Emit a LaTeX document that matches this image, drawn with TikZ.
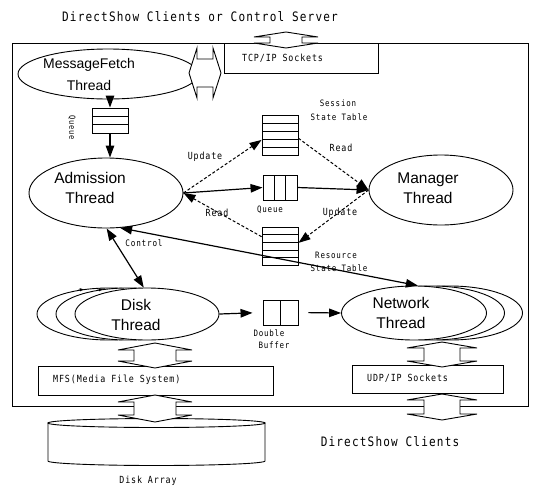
\documentclass[tikz,border=0pt]{standalone}
\usepackage{fontspec}
\setmainfont{Liberation Sans}
\newfontfamily\mono[FakeStretch=0.85,LetterSpace=9]{DejaVu Sans Mono}
\usetikzlibrary{arrows.meta,calc,shapes.geometric}

\newcommand\blkV[6]{\draw[blk] (#1,#2) -- (#1+#4,#2+#6) -- (#1+#5,#2+#6) -- (#1+#5,#3-#6) -- (#1+#4,#3-#6) -- (#1,#3) -- (#1-#4,#3-#6) -- (#1-#5,#3-#6) -- (#1-#5,#2+#6) -- (#1-#4,#2+#6) -- cycle;}
\newcommand\blkH[6]{\draw[blk] (#2,#1) -- (#2+#6,#1-#4) -- (#2+#6,#1-#5) -- (#3-#6,#1-#5) -- (#3-#6,#1-#4) -- (#3,#1) -- (#3-#6,#1+#4) -- (#3-#6,#1+#5) -- (#2+#6,#1+#5) -- (#2+#6,#1+#4) -- cycle;}

\tikzset{
 thr/.style={draw, ellipse, line width=0.9pt, fill=white, inner sep=0pt},
 big/.style={font=\fontsize{15.5}{20}\selectfont, align=center, inner sep=0pt},
 lbl/.style={font=\mono\fontsize{9.8}{12}\selectfont, inner sep=0pt},
 sm/.style={font=\mono\fontsize{8.8}{12}\selectfont, inner sep=0pt},
 ttl/.style={font=\mono\fontsize{13}{15}\selectfont, inner sep=0pt},
 sbox/.style={draw, line width=0.9pt, fill=white, inner sep=0pt},
 tip/.style={-{Triangle[length=12pt,width=8.5pt]}},
 arr/.style={line width=1.2pt, tip},
 darr/.style={line width=1.2pt, {Triangle[length=12pt,width=8.5pt]}-{Triangle[length=12pt,width=8.5pt]}},
 dsh/.style={line width=1pt, dash pattern=on 3pt off 2pt, tip},
 blk/.style={draw, line width=0.9pt, fill=white},
 rowtab/.style={sbox, path picture={\foreach \k in {1,...,#1}{\draw[line width=0.6pt] ($(path picture bounding box.north west)!{\k/(#1+1)}!(path picture bounding box.south west)$) -- ($(path picture bounding box.north east)!{\k/(#1+1)}!(path picture bounding box.south east)$);}}},
 coltab/.style={sbox, path picture={\foreach \k in {1,...,#1}{\draw[line width=0.8pt] ($(path picture bounding box.north west)!{\k/(#1+1)}!(path picture bounding box.north east)$) -- ($(path picture bounding box.south west)!{\k/(#1+1)}!(path picture bounding box.south east)$);}}},
}

\begin{document}
\begin{tikzpicture}[x=1pt,y=-1pt]
\useasboundingbox (0,0) rectangle (538,485);

% title and frame
\node[ttl] (title) at (200,17) {DirectShow Clients or Control Server};
\node[draw, line width=0.9pt, minimum width=516pt, minimum height=363pt, inner sep=0pt, anchor=north west] (frame) at (12,43) {};

% TCP/IP sockets
\node[sbox, minimum width=154pt, minimum height=30pt, anchor=north west] (tcp) at (224,43) {};
\node[lbl, anchor=west] (tcpT) at (242,58) {TCP/IP Sockets};
\blkV{286}{32}{48}{32}{16}{5}

% MessageFetch
\node[thr, minimum width=180pt, minimum height=50pt] (mf) at (108,74) {};
\node[big, font=\fontsize{14}{22}\selectfont] (mfT) at (89,74) {MessageFetch\\Thread};
\blkH{73}{189}{221}{25}{14}{8}

% queue below MessageFetch
\node[rowtab=2, minimum width=36pt, minimum height=25pt] (q1) at (110,120.5) {};
\node[sm, font=\mono\fontsize{8.3}{10}\selectfont, rotate=-90] (q1T) at (72,128) {Queue};

% Admission and Manager
\node[thr, minimum width=154pt, minimum height=70pt] (adm) at (106,193) {};
\node[big] (admT) at (90,188) {Admission\\Thread};
\node[thr, minimum width=144pt, minimum height=70pt] (mgr) at (441,190) {};
\node[big] (mgrT) at (428,188) {Manager\\Thread};

\draw[arr] (q1.north |- mf.south) -- (q1.north);
\draw[arr] (q1.south) -- (q1.south |- adm.north);

% tables
\node[rowtab=4, minimum width=36pt, minimum height=40pt] (sess) at (280,135) {};
\node[coltab=2, minimum width=34pt, minimum height=25pt] (mq) at (280,187.5) {};
\node[rowtab=4, minimum width=36pt, minimum height=38pt] (res) at (280,246) {};

\node[sm] (sessT1) at (338,103) {Session};
\node[sm] (sessT2) at (339,117) {State Table};
\node[sm] (mqT) at (270,210) {Queue};
\node[sm] (resT1) at (336,255) {Resource};
\node[sm] (resT2) at (339,268) {State Table};

\node[lbl] (upd1) at (205,157) {Update};
\node[lbl] (rd1) at (341,148) {Read};
\node[lbl] (rd2) at (217,213) {Read};
\node[lbl] (upd2) at (340,213) {Update};

\draw[dsh] (adm.east) -- ($(sess.north west)!0.62!(sess.south west)$);
\draw[dsh] ($(sess.north east)!0.58!(sess.south east)$) -- (mgr.west);
\draw[dsh] (mgr.west) -- ($(res.north east)!0.42!(res.south east)$);
\draw[dsh] ($(res.north west)!0.26!(res.south west)$) -- (adm.east);
\draw[arr] (adm.east) -- (mq.west);
\draw[arr] (mq.east) -- (mgr.west);

% Disk threads
\node[thr, minimum width=144pt, minimum height=52pt] (dk3) at (109,314) {};
\node[thr, minimum width=144pt, minimum height=52pt] (dk2) at (128,314) {};
\draw[line width=0.6pt, -{Triangle[length=3.5pt,width=3pt]}] (dk3.142) -- (dk3.136);
\draw[line width=0.6pt, -{Triangle[length=3.5pt,width=3pt]}] (dk2.142) -- (dk2.136);
\node[thr, minimum width=144pt, minimum height=52pt] (dk) at (147,314) {};
\node[big] (dkT) at (136,315) {Disk\\Thread};

% Network threads
\node[thr, minimum width=145pt, minimum height=54pt] (net3) at (450,313) {};
\node[thr, minimum width=145pt, minimum height=54pt] (net2) at (432,313) {};
\node[thr, minimum width=145pt, minimum height=54pt] (net) at (414,313) {};
\node[big] (netT) at (401,313) {Network\\Thread};

% control and long line
\node[font=\mono\fontsize{9}{11}\selectfont, inner sep=0pt] (ctl) at (144,243) {Control};
\draw[darr] (adm.-89) -- (dk.97);
\draw[darr] (adm.-68) -- (net.82);

% double buffer
\node[coltab=1, minimum width=35pt, minimum height=25pt] (buf) at (280.5,312.5) {};
\node[sm] (bufT1) at (269,333) {Double};
\node[sm] (bufT2) at (274,345) {Buffer};
\draw[arr, shorten >=10pt] (dk.east) -- (buf.west);
\draw[arr, shorten <=10pt] (buf.east) -- (net.west);

% MFS and UDP
\node[sbox, minimum width=235pt, minimum height=29pt, anchor=north west] (mfs) at (38,366) {};
\node[lbl, anchor=west] (mfsT) at (53,380) {MFS(Media File System)};
\node[sbox, minimum width=151pt, minimum height=28pt, anchor=north west] (udp) at (352,365) {};
\node[lbl, anchor=west] (udpT) at (367,378) {UDP/IP Sockets};

\blkV{155}{343}{368}{37}{21}{7}
\blkV{442}{342}{367}{35}{18}{6}

% disk array
\draw[line width=0.9pt, fill=white] (48,423) -- (48,461) arc[start angle=180, end angle=0, x radius=108.5, y radius=4.5] -- (265,423) -- cycle;
\draw[line width=0.9pt, fill=white] (156.5,423) ellipse [x radius=108.5, y radius=4.5];
\node[lbl] (daT) at (148,481) {Disk Array};

\blkV{155}{395}{422}{37}{21}{7}
\blkV{442}{394}{420}{35}{18}{6}

\node[ttl] (dsc) at (390,442) {DirectShow Clients};
\end{tikzpicture}
\end{document}
